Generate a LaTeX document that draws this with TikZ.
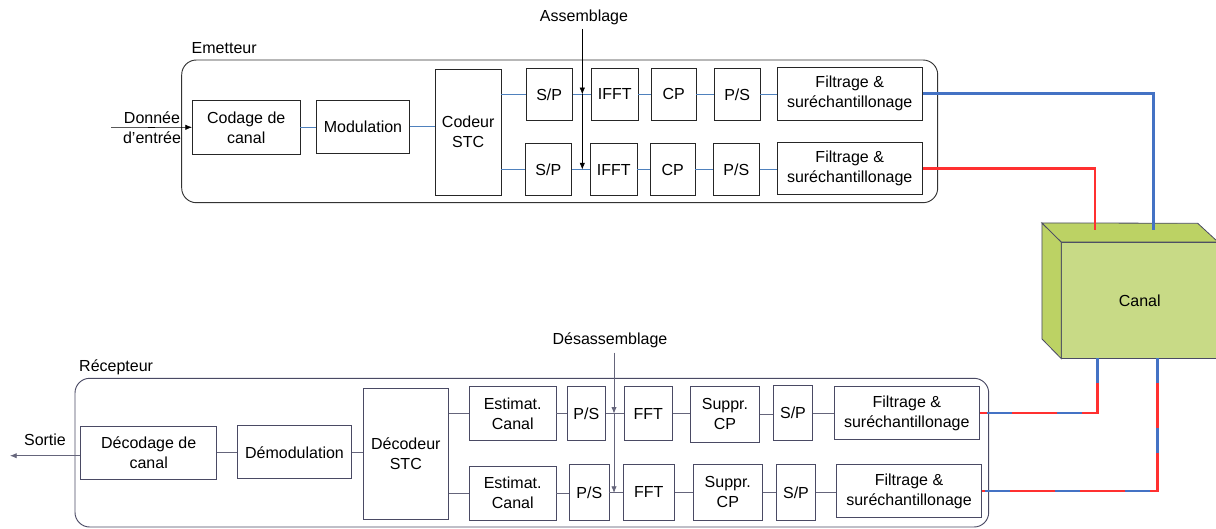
\documentclass[tikz,border=0pt]{standalone}
\usepackage{fontspec}
\setmainfont{Liberation Sans}
\usetikzlibrary{arrows.meta}
\definecolor{txblue}{HTML}{4F81BD}
\definecolor{chblue}{HTML}{4472C4}
\definecolor{chred}{HTML}{FF3030}
\definecolor{rxgray}{HTML}{4A4A64}
\definecolor{canalfront}{HTML}{C8DA86}
\definecolor{canalside}{HTML}{BCD264}

\begin{document}
\begin{tikzpicture}[x=0.75pt,y=-0.75pt,
  font=\fontsize{12}{15}\selectfont,
  sz/.style 2 args={minimum width=#1*0.75pt,minimum height=#2*0.75pt},
  blk/.style={draw=black!85,line width=0.6pt,inner sep=0pt,align=center},
  rblk/.style={blk,draw=rxgray},
  cont/.style={draw=black!80,rounded corners=11pt,line width=0.7pt,inner sep=0pt},
  tx/.style={txblue,line width=0.6pt},
  rx/.style={rxgray!85,line width=0.6pt},
  tip/.style={-{Latex[length=5pt,width=4pt]}},
  chan/.style={line width=2pt}]
\useasboundingbox (0,0) rectangle (1216,528);

% emetteur
\node[cont,sz={756}{142.7}] (emet) at (559.7,131.35) {};
\node[anchor=west] (lemet) at (187,48) {Emetteur};
\node[blk,sz={107.7}{53.3}] (cod) at (246.2,127.3) {Codage de\\canal};
\node[blk,sz={92.6}{53.3}] (mod) at (363,126.7) {Modulation};
\node[blk,sz={65.7}{125.7}] (stc) at (468.2,132.2) {Codeur\\STC};
\node[blk,sz={46.3}{52.7}] (sp1) at (549.2,94.3) {S/P};
\node[blk,sz={46.3}{52.7}] (ifft1) at (614.8,94.3) {IFFT};
\node[blk,sz={44.7}{52.7}] (cp1) at (673.7,94.3) {CP};
\node[blk,sz={45.7}{52.7}] (ps1) at (737.2,94.3) {P/S};
\node[blk,sz={145.3}{52.3}] (fil1) at (849.7,93.8) {Filtrage \&\\suréchantillonage};
\node[blk,sz={46}{52.4}] (sp2) at (548.3,169.5) {S/P};
\node[blk,sz={46.3}{52.4}] (ifft2) at (613.8,169.5) {IFFT};
\node[blk,sz={44.7}{52.4}] (cp2) at (672.7,169.5) {CP};
\node[blk,sz={46}{52.4}] (ps2) at (736.3,169.5) {P/S};
\node[blk,sz={145.3}{52.3}] (fil2) at (849.7,168.3) {Filtrage \&\\suréchantillonage};

\node[align=center] (din) at (152,127.7) {Donnée\\d’entrée};
\coordinate (din0) at (111,127.7);
\draw[tip] (din0) -- (cod.west);
\draw[tx] (cod.east) -- (cod.east -| mod.west);
\draw[tx] (mod.east) -- (mod.east -| stc.west);
\draw[tx] (stc.east |- sp1) -- (sp1);
\draw[tx] (sp1) -- (ifft1);
\draw[tx] (ifft1) -- (cp1);
\draw[tx] (cp1) -- (ps1);
\draw[tx] (ps1.east) -- (ps1.east -| fil1.west);
\draw[tx] (stc.east |- sp2) -- (sp2);
\draw[tx] (sp2) -- (ifft2);
\draw[tx] (ifft2) -- (cp2);
\draw[tx] (cp2) -- (ps2);
\draw[tx] (ps2.east) -- (ps2.east -| fil2.west);

\node (asm) at (584,17) {Assemblage};
\coordinate (a0) at (582.3,29);
\draw[tip] (a0) -- (a0 |- sp1);
\draw[tip] (a0 |- sp1) -- (a0 |- sp2);

% canal
\node[draw=rxgray,fill=canalfront,line width=0.6pt,sz={156}{115.8}] (canal) at (1139.7,300.4) {Canal};
\filldraw[fill=canalside,draw=rxgray,line width=0.6pt] (canal.north west) -- ++(-19.4,-19.2) -- ++(0,116) -- (canal.south west) -- cycle;
\filldraw[fill=canalside,draw=rxgray,line width=0.6pt] (canal.north west) -- ++(-19.4,-19.2) -- (1197.7,223.3) -- (canal.north east) -- cycle;
\coordinate (inB) at (1153.3,230);
\coordinate (inR) at (1095,230);
\draw[chan,chblue] (fil1.east) -| (inB);
\draw[chan,chred] (fil2.east) -| (inR);

% recepteur
\node[cont,draw=rxgray,sz={913.7}{148.7}] (recep) at (531.85,452.65) {};
\node[anchor=west] (lrecep) at (74.5,367.7) {Récepteur};
\node[rblk,sz={136}{52.3}] (dec) at (148.7,452.85) {Décodage de\\canal};
\node[rblk,sz={114.4}{53}] (demod) at (294.5,452.2) {Démodulation};
\node[rblk,sz={85}{131}] (dstc) at (405.8,453.8) {Décodeur\\STC};
\node[rblk,sz={86.7}{54}] (est1) at (512.7,413.7) {Estimat.\\Canal};
\node[rblk,sz={38.7}{53.3}] (psr1) at (586.3,413.5) {P/S};
\node[rblk,sz={48}{53.3}] (fft1) at (648.3,413.5) {FFT};
\node[rblk,sz={68.6}{55.3}] (sup1) at (725,414.3) {Suppr.\\CP};
\node[rblk,sz={38.6}{55.4}] (spr1) at (793,413) {S/P};
\node[rblk,sz={145}{52.6}] (filr1) at (906.8,413) {Filtrage \&\\suréchantillonage};
\node[rblk,sz={86.7}{54}] (est2) at (512.7,493) {Estimat.\\Canal};
\node[rblk,sz={39.3}{55.3}] (psr2) at (589.3,492.3) {P/S};
\node[rblk,sz={51.3}{55.3}] (fft2) at (648.7,492.3) {FFT};
\node[rblk,sz={69}{55.3}] (sup2) at (727.8,492.3) {Suppr.\\CP};
\node[rblk,sz={38.6}{55.3}] (spr2) at (796,492.3) {S/P};
\node[rblk,sz={145.4}{52.6}] (filr2) at (909,491) {Filtrage \&\\suréchantillonage};

\draw[rx] (dec.east) -- (dec.east -| demod.west);
\draw[rx] (demod.east) -- (demod.east -| dstc.west);
\draw[rx] (dstc.east |- est1) -- (est1);
\draw[rx] (est1.east) -- (est1.east -| psr1.west);
\draw[rx] (psr1.east) -- (psr1.east -| fft1.west);
\draw[rx] (fft1.east) -- (fft1.east -| sup1.west);
\draw[rx] (sup1.east) -- (sup1.east -| spr1.west);
\draw[rx] (spr1.east) -- (spr1.east -| filr1.west);
\draw[rx] (dstc.east |- est2) -- (est2);
\draw[rx] (est2.east) -- (est2.east -| psr2.west);
\draw[rx] (psr2.east) -- (psr2.east -| fft2.west);
\draw[rx] (fft2.east) -- (fft2.east -| sup2.west);
\draw[rx] (sup2.east) -- (sup2.east -| spr2.west);
\draw[rx] (spr2.east) -- (spr2.east -| filr2.west);

\node (dsm) at (610,340) {Désassemblage};
\coordinate (d0) at (614,352.7);
\draw[rx,tip] (d0) -- (d0 |- est1);
\draw[rx,tip] (d0 |- est1) -- (d0 |- est2);

\node (sort) at (45,439.3) {Sortie};
\coordinate (s0) at (10,455.7);
\draw[rx,tip] (dec.west |- s0) -- (s0);

\coordinate (outL) at (1097.7,358.3);
\coordinate (outR) at (1157.3,358.3);
\draw[chan,chblue] (outL) |- (filr1.east);
\draw[chan,chred,dash pattern=on 33.75pt off 18.75pt,dash phase=33.75pt] (outL) |- (filr1.east);
\draw[chan,chblue] (outR) |- (filr2.east);
\draw[chan,chred,dash pattern=on 33.75pt off 18.75pt,dash phase=33.75pt] (outR) |- (filr2.east);
\end{tikzpicture}
\end{document}
